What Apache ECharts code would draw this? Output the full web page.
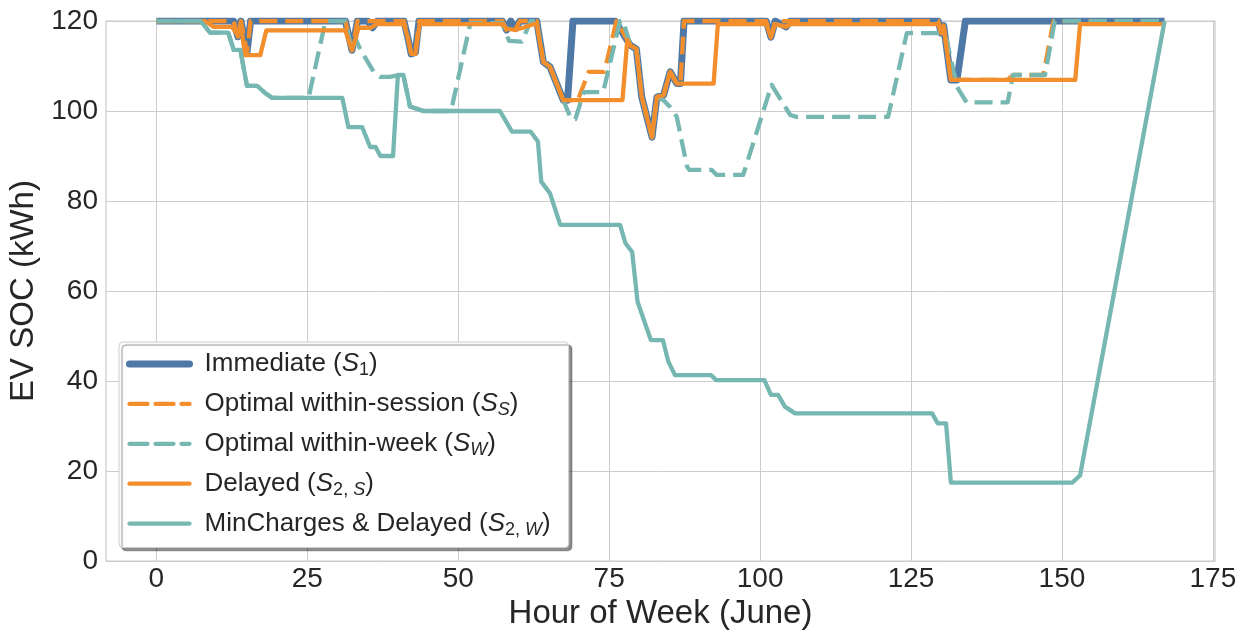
<!DOCTYPE html>
<html><head><meta charset="utf-8">
<script src="https://cdn.jsdelivr.net/npm/echarts@6/dist/echarts.min.js"></script>
<style>html,body{margin:0;padding:0;background:#fff}#c{width:1247px;height:633px}</style>
</head><body><div id="c"></div>
<script>
// ---- data: [hour of week, SOC kWh] ----
const immediate = [
[0,120],[12.8,120],[13.5,116.5],[14,120],[14.3,120],[15,113],[15.6,120],
[31.3,120],[32.4,113.5],[33.3,120],[35,120],[35.8,118.5],[36.6,120],
[41,120],[41.7,116],[42.2,112.7],[42.9,113],[43.5,120],
[57.3,120],[58,118],[58.7,120],[59.5,118.3],[60.2,120],
[63,120],[64.1,110.9],[65.2,109.8],[67.4,102.4],[68.1,102.4],[69,120],
[76,120],[78.5,114.6],[79.5,113.8],[80.4,103.1],[82.1,94.2],[82.9,103.1],[84,103.5],[85.1,108.7],[86.2,106.1],[86.8,106.1],[87.4,120],
[101,120],[101.8,116.4],[102.5,120],[104.3,118.7],[105,120],
[129.5,120],[130,117.3],[130.4,119],[131.6,106.9],[132.6,106.9],[134,120],[167,120]];

const optimalSession = [
[0,120],[12.8,120],[13.5,116.5],[14,120],[14.3,120],[15,113],[15.6,120],
[31.3,120],[32.4,113.5],[33.3,120],
[41,120],[41.7,116],[42.2,112.7],[42.9,113],[43.5,120],
[57.3,120],[58,118],[59.4,118],[60.2,120],
[63,120],[64.1,110.9],[65.2,109.8],[67.4,102.4],[69.8,102.4],[71.6,108.7],[74.2,108.7],[76.2,120],[76.5,120],
[78.5,114.6],[79.5,113.8],[80.4,103.1],[82.1,94.2],[82.9,103.1],[84,103.5],[85.1,108.7],[86.2,106.1],[86.8,106.1],[87.4,120],
[101,120],[101.8,116.4],[102.5,120],
[129.5,120],[130,117.3],[130.4,119],[131.6,106.9],[141,106.9],[141.9,108],[146.9,108],[148.6,120],[167,120]];

const optimalWeek = [
[0,120],[7.3,120],[8.9,117.4],[11.9,117.4],[12.8,113.6],[13.9,113.6],[15,105.6],[16.7,105.6],[18,104],[19.2,102.9],[25.2,102.9],[28,120],
[31.3,120],[32.4,113.5],[33,116],[33.8,113.6],[36,108.7],[37,107.6],[38.7,107.6],[40.3,108],[40.9,108],[42,101],[44.2,100],[48.8,100],[52,119.5],
[57.3,119.5],[58.4,115.6],[60.5,115.4],[62,120],[63,120],[64.1,110.9],[65.2,109.8],[67.4,102.4],[68.7,98.2],[69.4,98.2],[70.8,104.2],[74,104.2],[76.8,120],[77.3,120],
[78.5,114.6],[79.5,113.8],[80.4,103.1],[82.1,94.2],[82.9,103.1],[84,102.4],[85.1,100.9],[86.2,98.7],[87.9,87.6],[88.3,86.9],[92,86.9],[92.8,85.8],[97.2,85.8],
[101.9,105.8],[105,99.1],[106,98.7],[121.2,98.7],[124.3,117.3],[130.3,117.3],[130.9,115.8],[132.6,105.4],[134.2,101.9],[141,101.9],[141.9,108],[147.2,108],[148.8,120],[167,120]];

const delayedS = [
[0,120],[8,120],[9.5,118.7],[12.5,118.7],[13.4,117],[14,119],[14.7,112.4],[17.2,112.4],[18.2,117.9],[31.3,117.9],[32.4,113.5],[33.5,118.5],[35.5,118.5],[36.5,119.3],
[41,119.3],[41.7,116],[42.2,112.7],[42.9,112.7],[43.6,119.3],
[57.3,119.3],[58,118.3],[59.4,118],[61,118.6],[62.4,119.3],[63,119.3],[64.1,110.9],[65.2,109.8],[67.4,102.4],[77.2,102.4],[78,115.8],
[78.5,114.6],[79.5,113.8],[80.4,103.1],[82.1,94.2],[82.9,103.1],[84,103.5],[85.1,108.7],[86.2,106.1],[92.3,106.1],[93,119.3],
[101,119.3],[101.8,116.4],[102.5,119.3],[104.3,118.7],[105,119.3],
[129.5,119.3],[130,117.3],[130.4,119],[131.6,106.9],[152.2,106.9],[153,119.3],[167,119.3]];

const minChargesDelayed = [
[0,120],[7.3,120],[8.9,117.4],[11.9,117.4],[12.8,113.6],[13.9,113.6],[15,105.6],[16.7,105.6],[18,104],[19.2,102.9],[30.8,102.9],[31.8,96.4],[34.1,96.4],
[35.4,92],[36.3,92],[37.1,90],[39.2,90],[40,108],[40.9,108],[42,101],[44.2,100],[56.9,100],[58.9,95.4],[62,95.4],[63.2,93.2],[63.75,84.3],[65.2,81.7],[66.9,74.7],
[76.8,74.7],[77.7,70.6],[78.8,68.7],[79.7,57.6],[81.9,49.1],[83.9,49.1],[84.8,44.3],[85.9,41.3],[91.9,41.3],[92.7,40.2],[100.7,40.2],[101.8,36.9],[103,36.9],
[104.1,34.3],[105.8,32.8],[128.5,32.8],[129.4,30.6],[130.8,30.6],[131.6,17.4],[151.7,17.4],[153,19],[167,120]];

const xTicks = [0, 25, 50, 75, 100, 125, 150, 175];
const seriesNames = ['Immediate (S1)', 'Optimal within-session (SS)', 'Optimal within-week (SW)', 'Delayed (S2,S)', 'MinCharges & Delayed (S2,W)'];

// ---- chart ----
const FONT = '"Liberation Sans", Arial, sans-serif';
const TXT = '#262626';
const BLUE = '#4E79A7', ORANGE = '#F28E2B', TEAL = '#76B7B2';
const DASH = [18, 8];
const colors = [BLUE, ORANGE, TEAL, ORANGE, TEAL];
const widths = [7, 4.3, 4.3, 4.3, 4.3];
const dashed = [false, true, true, false, false];

const legendLabels = {};
legendLabels[seriesNames[0]] = '{sp|}{n|Immediate (}{i|S}{sb|1}{n|)}';
legendLabels[seriesNames[1]] = '{sp|}{n|Optimal within-session (}{i|S}{si|S}{n|)}';
legendLabels[seriesNames[2]] = '{sp|}{n|Optimal within-week (}{i|S}{si|W}{n|)}';
legendLabels[seriesNames[3]] = '{sp|}{n|Delayed (}{i|S}{sb|2, }{si|S}{n|)}';
legendLabels[seriesNames[4]] = '{sp|}{n|MinCharges & Delayed (}{i|S}{sb|2, }{si|W}{n|)}';

const rich = {
  sp: {width: 10},
  n: {fontSize: 26, fontFamily: FONT, color: TXT, lineHeight: 30},
  i: {fontSize: 26, fontFamily: FONT, color: TXT, fontStyle: 'italic', lineHeight: 30},
  sb: {fontSize: 18, fontFamily: FONT, color: TXT, lineHeight: 14, verticalAlign: 'bottom'},
  si: {fontSize: 18, fontFamily: FONT, color: TXT, fontStyle: 'italic', lineHeight: 14, verticalAlign: 'bottom'}
};

function mk(i, data, z) {
  return {
    type: 'line', name: seriesNames[i], data: data, symbol: 'none', showSymbol: false, z: z,
    lineStyle: {color: colors[i], width: widths[i], type: dashed[i] ? DASH : 'solid', join: 'round', cap: 'butt'},
    itemStyle: {color: colors[i]},
    emphasis: {disabled: true}
  };
}

const chart = echarts.init(document.getElementById('c'), null, {renderer: 'canvas'});
chart.setOption({
  animation: false,
  backgroundColor: '#fff',
  grid: {left: 106, right: 32, top: 21, bottom: 72, outerBoundsMode: 'none', containLabel: false,
         show: true, borderColor: '#cccccc', borderWidth: 1.25, backgroundColor: '#fff'},
  xAxis: {
    type: 'value', min: -8.35, max: 175.35,
    axisLine: {show: false},
    axisTick: {show: false, customValues: xTicks},
    axisLabel: {customValues: xTicks, fontSize: 28, color: TXT, fontFamily: FONT, margin: 4},
    splitLine: {show: true, lineStyle: {color: '#cccccc', width: 1}},
    name: 'Hour of Week (June)', nameLocation: 'middle', nameGap: 33,
    nameTextStyle: {fontSize: 33, color: TXT, fontFamily: FONT}
  },
  yAxis: {
    type: 'value', min: 0, max: 120, interval: 20,
    axisLine: {show: false}, axisTick: {show: false},
    axisLabel: {fontSize: 28, color: TXT, fontFamily: FONT, margin: 8},
    splitLine: {show: true, lineStyle: {color: '#cccccc', width: 1}},
    name: 'EV SOC (kWh)', nameLocation: 'middle', nameGap: 57, nameRotate: 90,
    nameTextStyle: {fontSize: 33, color: TXT, fontFamily: FONT}
  },
  legend: {
    orient: 'vertical', left: 119, top: 342,
    padding: [9, 18, 9, 7], itemGap: 11.9, itemWidth: 60, itemHeight: 14,
    backgroundColor: '#fff', borderColor: '#cccccc', borderWidth: 1, borderRadius: 4,
    shadowColor: 'rgba(0,0,0,0.45)', shadowBlur: 1, shadowOffsetX: 3, shadowOffsetY: 3,
    data: seriesNames.map(function (n, i) {
      return {
        name: n,
        itemStyle: {color: 'rgba(0,0,0,0)', opacity: 0, borderWidth: 0},
        lineStyle: {color: colors[i], width: widths[i], type: dashed[i] ? DASH : 'solid', cap: 'round'}
      };
    }),
    formatter: function (n) { return legendLabels[n]; },
    textStyle: {fontFamily: FONT, fontSize: 26, color: TXT, rich: rich},
    selectedMode: false
  },
  series: [
    mk(0, immediate, 2),
    mk(1, optimalSession, 3),
    mk(2, optimalWeek, 4),
    mk(3, delayedS, 5),
    mk(4, minChargesDelayed, 6)
  ]
});
</script></body></html>
